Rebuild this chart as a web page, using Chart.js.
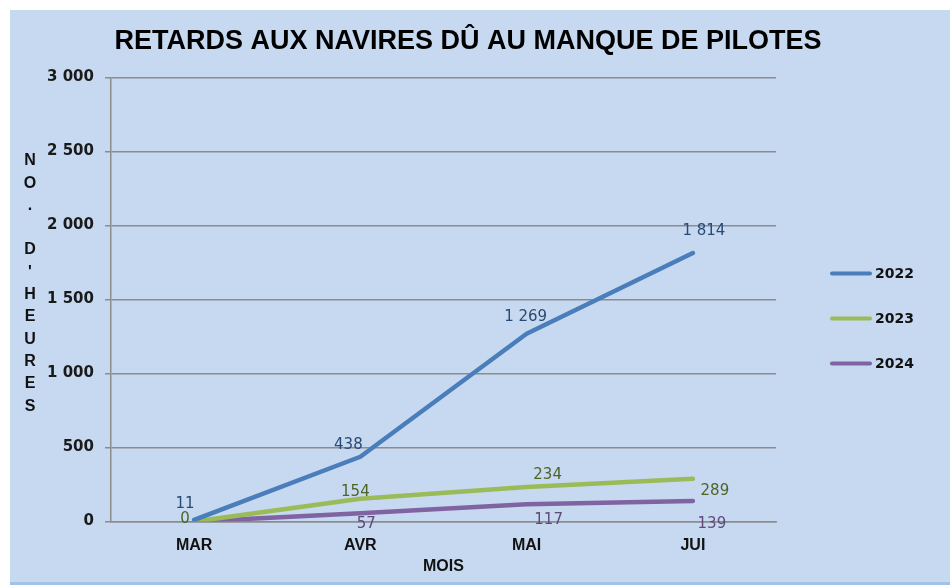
<!DOCTYPE html>
<html>
<head>
<meta charset="utf-8">
<script src="https://cdn.jsdelivr.net/npm/chart.js@4.4.0/dist/chart.umd.min.js"></script>
<style>
  html, body { margin: 0; padding: 0; background: #fff; }
  #wrap { position: absolute; left: 10px; top: 10px; width: 940px; height: 572px; background: #c6d9f1; border-bottom: 3px solid #a3c2e8; }
</style>
</head>
<body>
<div id="wrap"><canvas id="chart"></canvas></div>
<script>
var months = ['MAR', 'AVR', 'MAI', 'JUI'];
var years = ['2022', '2023', '2024'];
var hours2022 = [11, 438, 1269, 1814];
var hours2023 = [0, 154, 234, 289];
var hours2024 = [0, 57, 117, 139];
var yMax = 3000;
var yStep = 500;
var titleText = 'RETARDS AUX NAVIRES DÛ AU MANQUE DE PILOTES';
var yTitle = "NO. D'HEURES";
var xTitle = 'MOIS';

function fmt(v) {
  return String(v).replace(/\B(?=(\d{3})+(?!\d))/g, ' ');
}

// value labels, offsets from the point in px
var valueLabels = {
  id: 'valueLabels',
  afterDatasetsDraw: function(chart) {
    var ctx = chart.ctx;
    chart.data.datasets.forEach(function(ds, i) {
      var meta = chart.getDatasetMeta(i);
      meta.data.forEach(function(pt, j) {
        var off = ds.labelOffsets[j];
        if (!off) return;
        ctx.save();
        ctx.font = '15px "DejaVu Sans"';
        ctx.fillStyle = ds.labelColor;
        ctx.textAlign = 'center';
        ctx.textBaseline = 'middle';
        ctx.fillText(fmt(ds.data[j]), pt.x + off[0], pt.y + off[1]);
        ctx.restore();
      });
    });
  }
};

// stacked y title + legend on the right
var sideText = {
  id: 'sideText',
  afterDraw: function(chart) {
    var ctx = chart.ctx;
    var area = chart.chartArea;
    var mid = (area.top + area.bottom) / 2;
    var letters = yTitle.split('');
    var step = 22.3;
    var y0 = mid - 16 - (letters.length - 1) * step / 2;
    ctx.save();
    ctx.font = 'bold 16px "Liberation Sans"';
    ctx.fillStyle = '#111';
    ctx.textAlign = 'center';
    ctx.textBaseline = 'middle';
    letters.forEach(function(c, i) {
      ctx.fillText(c, 20, y0 + i * step);
    });

    ctx.font = 'bold 14px "DejaVu Sans"';
    ctx.textAlign = 'left';
    chart.data.datasets.forEach(function(ds, i) {
      var y = mid - 26 + i * 45;
      var x = area.right + 56;
      ctx.strokeStyle = ds.borderColor;
      ctx.lineWidth = 4;
      ctx.lineCap = 'round';
      ctx.beginPath();
      ctx.moveTo(x, y);
      ctx.lineTo(x + 38, y);
      ctx.stroke();
      ctx.fillStyle = '#111';
      ctx.fillText(ds.label, x + 43, y + 1);
    });
    ctx.restore();
  }
};

var ctx = document.getElementById('chart').getContext('2d');

var chart = new Chart(ctx, {
  type: 'line',
  data: {
    labels: months,
    datasets: [{
      label: years[0],
      data: hours2022,
      borderColor: '#4a7ebb',
      labelColor: '#2a4a73',
      labelOffsets: [[-9, -16], [-12, -12], [-1, -17], [11, -22]]
    }, {
      label: years[1],
      data: hours2023,
      borderColor: '#9bbb59',
      labelColor: '#4f6228',
      labelOffsets: [[-9, -2], [-5, -7], [21, -12], [22, 12]]
    }, {
      label: years[2],
      data: hours2024,
      borderColor: '#8064a2',
      labelColor: '#5f4a7b',
      labelOffsets: [null, [6, 11], [22, 16], [19, 23]]
    }]
  },
  options: {
    responsive: true,
    maintainAspectRatio: false,
    animation: false,
    layout: { padding: { left: 26, right: 50, top: 0, bottom: 6 } },
    elements: {
      point: { radius: 0 },
      line: { borderWidth: 4.5, tension: 0, borderCapStyle: 'round', borderJoinStyle: 'round' }
    },
    scales: {
      x: {
        offset: true,
        grid: { display: false, drawTicks: false },
        border: { display: true, color: '#8c8c8c', width: 1.5 },
        ticks: { padding: 14, color: '#111', font: { family: '"Liberation Sans"', weight: 'bold', size: 16 } },
        title: { display: true, text: xTitle, color: '#111', padding: { top: -12, bottom: 0 }, font: { family: '"Liberation Sans"', weight: 'bold', size: 16 } }
      },
      y: {
        min: 0,
        max: yMax,
        ticks: { stepSize: yStep, padding: 11, color: '#1a1a1a', font: { family: '"DejaVu Sans"', weight: 'bold', size: 15 }, callback: function(v) { return fmt(v); } },
        grid: { color: '#8c8c8c', lineWidth: 1.5, tickLength: 6 },
        border: { color: '#8c8c8c', width: 1.5 }
      },
      // empty right axis, keeps room for the legend
      y2: {
        position: 'right',
        display: true,
        grid: { display: false, drawTicks: false },
        border: { display: false },
        ticks: { display: false },
        afterFit: function(scale) { scale.width = 124; }
      }
    },
    plugins: {
      legend: { display: false },
      tooltip: { enabled: false },
      title: {
        display: true,
        text: titleText,
        color: '#000',
        padding: { top: 15, bottom: 20 },
        font: { family: '"Liberation Sans"', weight: 'bold', size: 27 }
      }
    }
  },
  plugins: [valueLabels, sideText]
});
</script>
</body>
</html>
